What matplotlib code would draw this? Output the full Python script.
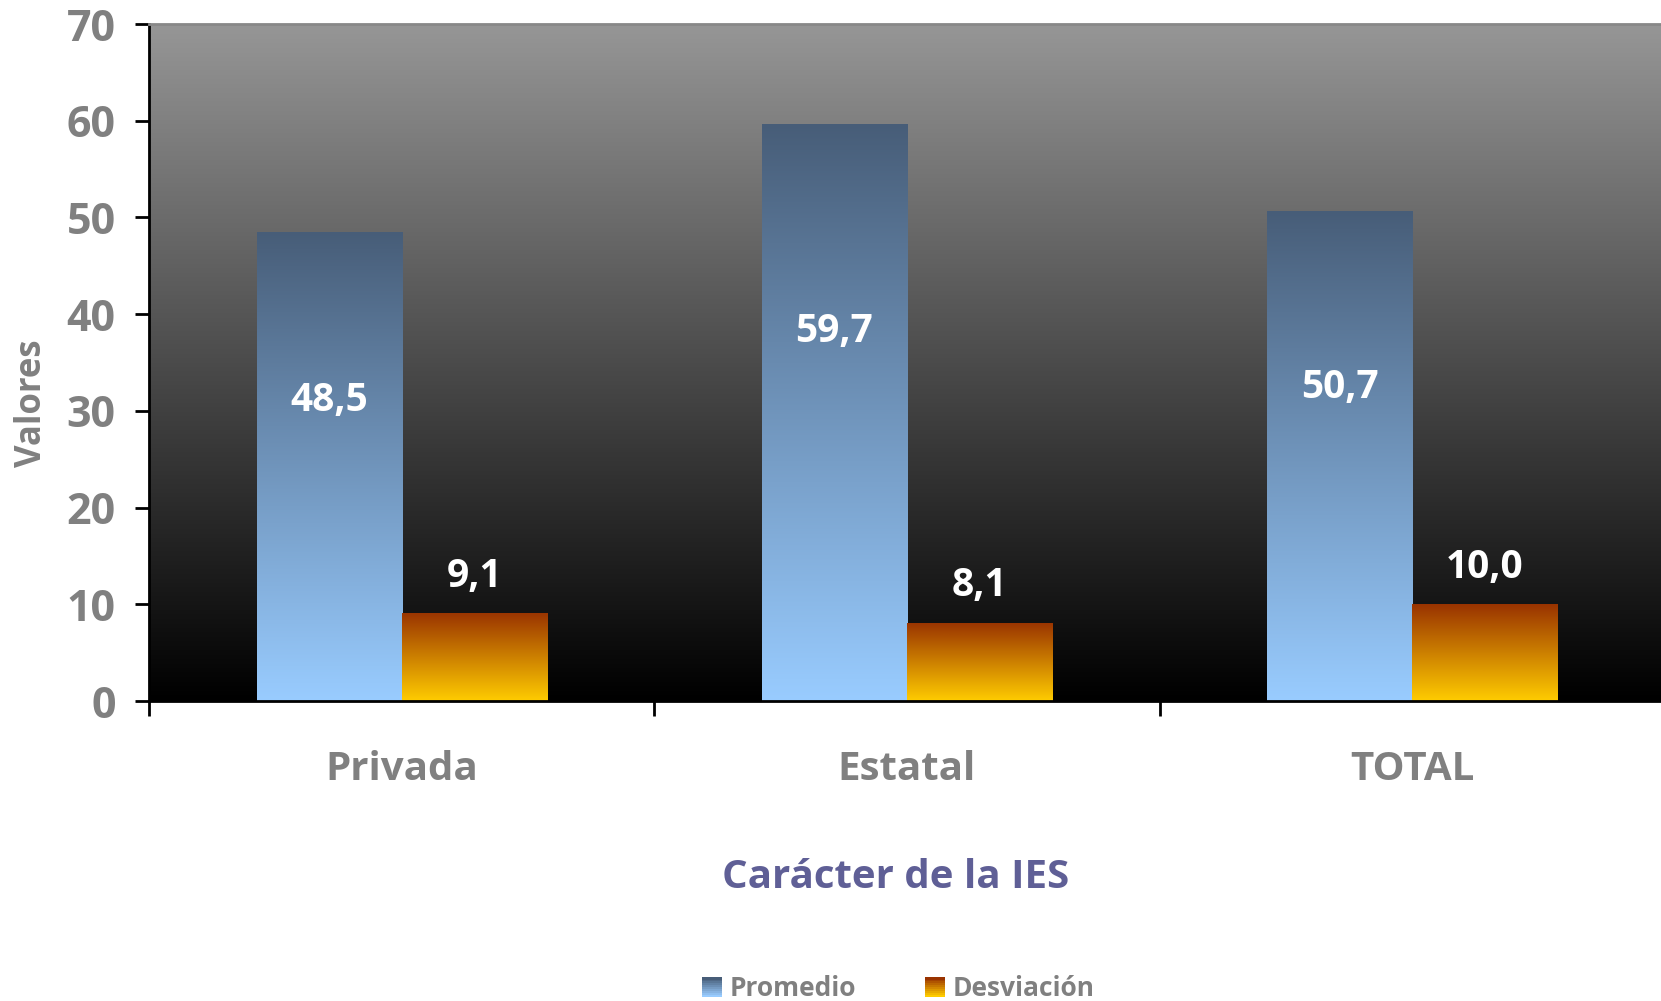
import numpy as np
import matplotlib
matplotlib.use("Agg")
import matplotlib.pyplot as plt
from matplotlib.colors import LinearSegmentedColormap, to_rgb
from matplotlib.patches import Rectangle
from matplotlib.legend_handler import HandlerBase

categorias = ["Privada", "Estatal", "TOTAL"]
promedio = [48.5, 59.7, 50.7]
desviacion = [9.1, 8.1, 10.0]
series = ["Promedio", "Desviación"]

plt.rcParams["font.family"] = ["Open Sans", "DejaVu Sans"]

azul = ("#99ccff", "#475d78")      # abajo, arriba
naranja = ("#ffcc00", "#993300")
gris_texto = "#808080"


def gradiente(colores):
    return LinearSegmentedColormap.from_list("g", list(colores))


def pintar_barras(ax, barras, colores):
    cmap = gradiente(colores)
    grad = np.linspace(0, 1, 256).reshape(-1, 1)
    for b in barras:
        x0, y0 = b.get_x(), b.get_y()
        w, h = b.get_width(), b.get_height()
        im = ax.imshow(grad, cmap=cmap, origin="lower", aspect="auto",
                       extent=[x0, x0 + w, y0, y0 + h], zorder=2)
        im.set_clip_path(b)
        b.set_facecolor("none")


class HandlerGradiente(HandlerBase):
    def __init__(self, colores):
        super().__init__()
        self.colores = colores

    def create_artists(self, legend, orig_handle, xdescent, ydescent,
                       width, height, fontsize, trans):
        c0 = np.array(to_rgb(self.colores[0]))
        c1 = np.array(to_rgb(self.colores[1]))
        n = 10
        artistas = []
        for i in range(n):
            t = i / (n - 1)
            col = c0 * (1 - t) + c1 * t
            r = Rectangle((-xdescent, -ydescent + height * i / n), width, height / n + 0.3,
                          facecolor=col, edgecolor="none", transform=trans)
            artistas.append(r)
        return artistas


fig = plt.figure(figsize=(16.61, 10.01), dpi=100)
ax = fig.add_axes([0.0897, 0.2997, 0.9127, 0.6763])

# fondo degradado
fondo = LinearSegmentedColormap.from_list("fondo", ["#000000", "#969696"])
ax.imshow(np.linspace(0, 1, 256).reshape(-1, 1), cmap=fondo, origin="lower",
          aspect="auto", extent=[0, 1, 0, 1], transform=ax.transAxes, zorder=0)

x = np.arange(len(categorias))
ancho = 0.287
b1 = ax.bar(x - ancho / 2, promedio, ancho, zorder=2, linewidth=0)
b2 = ax.bar(x + ancho / 2, desviacion, ancho, zorder=2, linewidth=0)
pintar_barras(ax, b1, azul)
pintar_barras(ax, b2, naranja)

for i in range(len(categorias)):
    ax.text(x[i] - ancho / 2, promedio[i] * 0.64, f"{promedio[i]:.1f}".replace(".", ","),
            ha="center", va="center", color="white", fontsize=28, fontweight="bold", zorder=4)
    ax.text(x[i] + ancho / 2, desviacion[i] + 3.8, f"{desviacion[i]:.1f}".replace(".", ","),
            ha="center", va="center", color="white", fontsize=28, fontweight="bold", zorder=4)

ax.set_xlim(-0.5, 2.5)
ax.set_ylim(0, 70)
ax.set_yticks(range(0, 71, 10))
ax.set_xticks(x)
ax.set_xticklabels(categorias)
ax.set_xticks([-0.5, 0.5, 1.5, 2.5], minor=True)
ax.tick_params(axis="x", which="major", length=0, pad=35, labelsize=29, labelcolor=gris_texto)
ax.tick_params(axis="x", which="minor", length=11, width=2, direction="out")
ax.tick_params(axis="y", length=10, width=2, pad=14, labelsize=31, labelcolor=gris_texto)
for lbl in ax.get_xticklabels() + ax.get_yticklabels():
    lbl.set_fontweight("bold")

ax.spines["right"].set_visible(False)
ax.spines["top"].set_color("#888888")
ax.spines["top"].set_linewidth(2)
ax.spines["left"].set_linewidth(2)
ax.spines["bottom"].set_linewidth(2)
for s in ax.spines.values():
    s.set_zorder(5)

fig.text(0.019, 0.597, "Valores", rotation=90, ha="center", va="center",
         fontsize=25, color=gris_texto, fontweight="bold")

fig.text(0.539, 0.123, "Carácter de la IES", ha="center", va="center",
         fontsize=29, fontweight="bold", color="#5f5f96")

h1 = Rectangle((0, 0), 1, 1)
h2 = Rectangle((0, 0), 1, 1)
fig.legend([h1, h2], series, loc="center", bbox_to_anchor=(0.541, 0.012), ncol=2,
           frameon=False, labelcolor=gris_texto, prop={"weight": "bold", "size": 19},
           handlelength=0.75, handleheight=0.75, handletextpad=0.3, columnspacing=2.6,
           borderpad=0.1, handler_map={h1: HandlerGradiente(azul), h2: HandlerGradiente(naranja)})

fig.savefig("out.png", dpi=100)
